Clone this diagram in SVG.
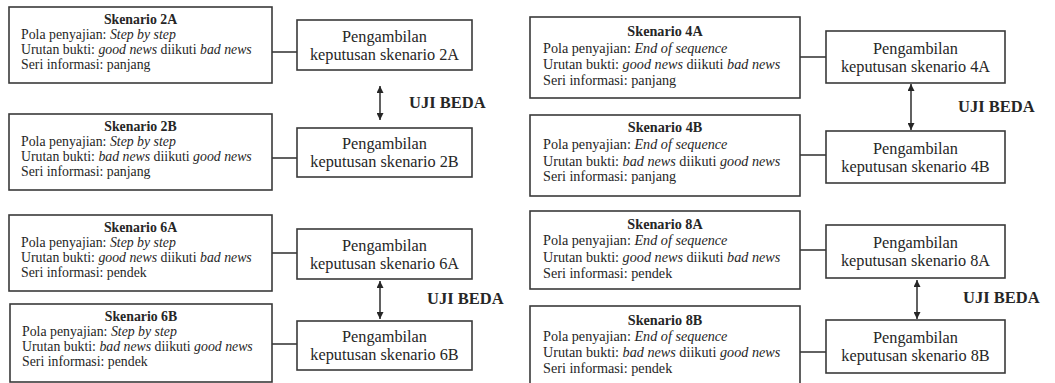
<svg xmlns="http://www.w3.org/2000/svg" width="1055" height="383" viewBox="0 0 1055 383" font-family="'Liberation Serif', Tinos, 'Times New Roman', 'DejaVu Serif', serif">
<style>
text{font-family:'Liberation Serif',Tinos,'Times New Roman','DejaVu Serif',serif;fill:#262626}
.box{fill:#fff;stroke:#3a3a3a;stroke-width:1.6}
.l{font-size:13.8px}
.r{font-size:14.2px}
.h{font-weight:bold;text-anchor:middle}
.i{font-style:italic}
.res{font-size:16.3px;text-anchor:middle}
.uji{font-size:16.5px;font-weight:bold}
.ln{stroke:#3a3a3a;stroke-width:1.6;fill:none}
</style>
<defs>
<marker id="ah" viewBox="0 0 10 10" refX="10" refY="5" markerWidth="7" markerHeight="7" markerUnits="userSpaceOnUse" orient="auto-start-reverse">
<path d="M0,0 L10,5 L0,10 z" fill="#262626"/>
</marker>
</defs>
<rect width="1055" height="383" fill="#fff"/>

<g id="connectors">
<line class="ln" x1="272" y1="52" x2="297" y2="52"/>
<line class="ln" x1="272" y1="158" x2="297" y2="158"/>
<line class="ln" x1="272" y1="253" x2="297" y2="253"/>
<line class="ln" x1="272" y1="344" x2="297" y2="344"/>
<line class="ln" x1="800" y1="57" x2="826" y2="57"/>
<line class="ln" x1="800" y1="155" x2="826" y2="155"/>
<line class="ln" x1="800" y1="250" x2="826" y2="250"/>
<line class="ln" x1="800" y1="352" x2="826" y2="352"/>
<line class="ln" x1="380" y1="86" x2="380" y2="120" marker-start="url(#ah)" marker-end="url(#ah)"/>
<line class="ln" x1="380" y1="281" x2="380" y2="319" marker-start="url(#ah)" marker-end="url(#ah)"/>
<line class="ln" x1="911" y1="84" x2="911" y2="130" marker-start="url(#ah)" marker-end="url(#ah)"/>
<line class="ln" x1="917" y1="280" x2="917" y2="319" marker-start="url(#ah)" marker-end="url(#ah)"/>
<text class="uji" x="409" y="108">UJI BEDA</text>
<text class="uji" x="427" y="304">UJI BEDA</text>
<text class="uji" x="958" y="112">UJI BEDA</text>
<text class="uji" x="963" y="303">UJI BEDA</text>
</g>

<g id="s2A">
<rect class="box" x="9" y="7" width="263" height="76"/>
<text class="l h" x="140.5" y="24">Skenario 2A</text>
<text class="l" x="21" y="38.5">Pola penyajian: <tspan class="i">Step by step</tspan></text>
<text class="l" x="21" y="53.5">Urutan bukti: <tspan class="i">good news</tspan> diikuti <tspan class="i">bad news</tspan></text>
<text class="l" x="21" y="68.5">Seri informasi: panjang</text>
</g>
<g id="s2B">
<rect class="box" x="9" y="114" width="263" height="76"/>
<text class="l h" x="140.5" y="131">Skenario 2B</text>
<text class="l" x="21" y="145.5">Pola penyajian: <tspan class="i">Step by step</tspan></text>
<text class="l" x="21" y="160.5">Urutan bukti: <tspan class="i">bad news</tspan> diikuti <tspan class="i">good news</tspan></text>
<text class="l" x="21" y="175.5">Seri informasi: panjang</text>
</g>
<g id="s6A">
<rect class="box" x="9" y="215" width="263" height="76"/>
<text class="l h" x="140.5" y="232">Skenario 6A</text>
<text class="l" x="21" y="246.5">Pola penyajian: <tspan class="i">Step by step</tspan></text>
<text class="l" x="21" y="262">Urutan bukti: <tspan class="i">good news</tspan> diikuti <tspan class="i">bad news</tspan></text>
<text class="l" x="21" y="277">Seri informasi: pendek</text>
</g>
<g id="s6B">
<rect class="box" x="10" y="304" width="262" height="78"/>
<text class="l h" x="141" y="321">Skenario 6B</text>
<text class="l" x="22" y="335.5">Pola penyajian: <tspan class="i">Step by step</tspan></text>
<text class="l" x="22" y="351">Urutan bukti: <tspan class="i">bad news</tspan> diikuti <tspan class="i">good news</tspan></text>
<text class="l" x="22" y="366">Seri informasi: pendek</text>
</g>

<g id="r2A">
<rect class="box" x="297" y="20" width="175" height="50"/>
<text class="res" x="384.5" y="41.5">Pengambilan</text>
<text class="res" x="384.5" y="59.5">keputusan skenario 2A</text>
</g>
<g id="r2B">
<rect class="box" x="297" y="128" width="175" height="49"/>
<text class="res" x="384.5" y="149">Pengambilan</text>
<text class="res" x="384.5" y="167">keputusan skenario 2B</text>
</g>
<g id="r6A">
<rect class="box" x="297" y="229" width="175" height="50"/>
<text class="res" x="384.5" y="250.5">Pengambilan</text>
<text class="res" x="384.5" y="268.5">keputusan skenario 6A</text>
</g>
<g id="r6B">
<rect class="box" x="297" y="321" width="175" height="49"/>
<text class="res" x="384.5" y="342">Pengambilan</text>
<text class="res" x="384.5" y="360">keputusan skenario 6B</text>
</g>

<g id="s4A">
<rect class="box" x="530" y="17" width="270" height="81"/>
<text class="r h" x="665" y="36">Skenario 4A</text>
<text class="r" x="543" y="52.5">Pola penyajian: <tspan class="i">End of sequence</tspan></text>
<text class="r" x="543" y="69">Urutan bukti: <tspan class="i">good news</tspan> diikuti <tspan class="i">bad news</tspan></text>
<text class="r" x="543" y="85">Seri informasi: panjang</text>
</g>
<g id="s4B">
<rect class="box" x="530" y="115" width="270" height="81"/>
<text class="r h" x="665" y="132">Skenario 4B</text>
<text class="r" x="543" y="149">Pola penyajian: <tspan class="i">End of sequence</tspan></text>
<text class="r" x="543" y="165.5">Urutan bukti: <tspan class="i">bad news</tspan> diikuti <tspan class="i">good news</tspan></text>
<text class="r" x="543" y="181">Seri informasi: panjang</text>
</g>
<g id="s8A">
<rect class="box" x="530" y="211" width="270" height="78"/>
<text class="r h" x="665" y="229">Skenario 8A</text>
<text class="r" x="543" y="245">Pola penyajian: <tspan class="i">End of sequence</tspan></text>
<text class="r" x="543" y="261.5">Urutan bukti: <tspan class="i">good news</tspan> diikuti <tspan class="i">bad news</tspan></text>
<text class="r" x="543" y="277.5">Seri informasi: pendek</text>
</g>
<g id="s8B">
<rect class="box" x="530" y="306" width="270" height="78"/>
<text class="r h" x="665" y="325">Skenario 8B</text>
<text class="r" x="543" y="341">Pola penyajian: <tspan class="i">End of sequence</tspan></text>
<text class="r" x="543" y="357">Urutan bukti: <tspan class="i">bad news</tspan> diikuti <tspan class="i">good news</tspan></text>
<text class="r" x="543" y="373">Seri informasi: pendek</text>
</g>

<g id="r4A">
<rect class="box" x="826" y="31" width="179" height="52"/>
<text class="res" x="915.5" y="53.5">Pengambilan</text>
<text class="res" x="915.5" y="71.5">keputusan skenario 4A</text>
</g>
<g id="r4B">
<rect class="box" x="826" y="131" width="179" height="52"/>
<text class="res" x="915.5" y="153.5">Pengambilan</text>
<text class="res" x="915.5" y="171.5">keputusan skenario 4B</text>
</g>
<g id="r8A">
<rect class="box" x="826" y="225" width="179" height="53"/>
<text class="res" x="915.5" y="248">Pengambilan</text>
<text class="res" x="915.5" y="266">keputusan skenario 8A</text>
</g>
<g id="r8B">
<rect class="box" x="826" y="320" width="179" height="53"/>
<text class="res" x="915.5" y="343">Pengambilan</text>
<text class="res" x="915.5" y="361">keputusan skenario 8B</text>
</g>
</svg>
